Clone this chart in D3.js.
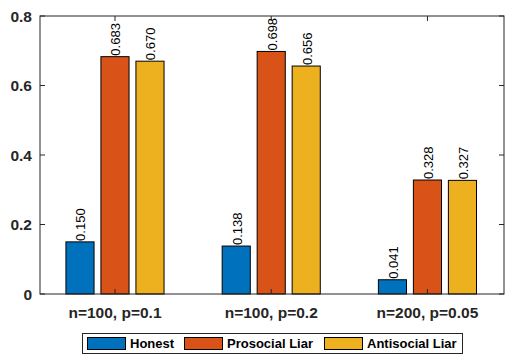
<!DOCTYPE html>
<html>
<head>
<meta charset="utf-8">
<script src="https://cdn.jsdelivr.net/npm/d3@7"></script>
<style>
body { margin: 0; background: #fff; }
svg text { font-family: "Liberation Sans", Arial, Helvetica, sans-serif; }
</style>
</head>
<body>
<div id="chart"></div>
<script>
var W = 515, H = 364;

var groups = ["n=100, p=0.1", "n=100, p=0.2", "n=200, p=0.05"];
var series = ["Honest", "Prosocial Liar", "Antisocial Liar"];
var honest = [0.150, 0.138, 0.041];
var prosocial = [0.683, 0.698, 0.328];
var antisocial = [0.670, 0.656, 0.327];
var yTicks = [0, 0.2, 0.4, 0.6, 0.8];

var colors = ["#0072bd", "#d95319", "#edb120"];
var values = [honest, prosocial, antisocial];

// plot box (window.top is taken, so no "top" here)
var pL = 40, pR = 504, pT = 16, pB = 294;

var x = d3.scaleLinear().domain([0.52, 3.49]).range([pL, pR]);
var y = d3.scaleLinear().domain([0, 0.8]).range([pB, pT]);
var off = 0.224, bw = 0.18;

var svg = d3.select("#chart").append("svg")
	.attr("width", W)
	.attr("height", H);

var bars = [];
for(let s = 0; s < series.length; s++) {
	for(let g = 0; g < groups.length; g++) {
		bars.push({s: s, g: g, v: values[s][g]});
	}
}

var bx = d => x(d.g + 1 + (d.s - 1) * off);
var barW = x(bw) - x(0);

svg.selectAll("rect.bar")
	.data(bars)
	.enter()
	.append("rect")
	.attr("class", "bar")
	.attr("x", d => bx(d) - barW / 2)
	.attr("width", barW)
	.attr("y", d => y(d.v))
	.attr("height", d => y(0) - y(d.v))
	.attr("fill", d => colors[d.s])
	.attr("stroke", "#000")
	.attr("stroke-width", 1);

svg.selectAll("text.val")
	.data(bars)
	.enter()
	.append("text")
	.attr("class", "val")
	.attr("transform", d => "translate(" + (bx(d) + 2) + "," + (y(d.v) - 1) + ") rotate(-90)")
	.attr("dominant-baseline", "middle")
	.style("font-size", "13px")
	.attr("fill", "#000")
	.text(d => d.v.toFixed(3));

// box
svg.append("rect")
	.attr("x", pL)
	.attr("y", pT)
	.attr("width", pR - pL)
	.attr("height", pB - pT)
	.attr("fill", "none")
	.attr("stroke", "#262626")
	.attr("stroke-width", 1);

// y ticks, both sides, inward
svg.selectAll("line.yl")
	.data(yTicks)
	.enter()
	.append("line")
	.attr("x1", pL).attr("x2", pL + 5)
	.attr("y1", d => y(d)).attr("y2", d => y(d))
	.attr("stroke", "#262626");
svg.selectAll("line.yr")
	.data(yTicks)
	.enter()
	.append("line")
	.attr("x1", pR).attr("x2", pR - 5)
	.attr("y1", d => y(d)).attr("y2", d => y(d))
	.attr("stroke", "#262626");
svg.selectAll("text.yt")
	.data(yTicks)
	.enter()
	.append("text")
	.attr("x", pL - 8)
	.attr("y", d => y(d))
	.attr("dy", "0.36em")
	.attr("text-anchor", "end")
	.style("font-size", "15.5px")
	.style("font-weight", "bold")
	.attr("fill", "#262626")
	.text(d => d === 0 ? "0" : d.toFixed(1));

// x ticks top and bottom
svg.selectAll("line.xb")
	.data(groups)
	.enter()
	.append("line")
	.attr("x1", (d, i) => x(i + 1)).attr("x2", (d, i) => x(i + 1))
	.attr("y1", pB).attr("y2", pB - 5)
	.attr("stroke", "#262626");
svg.selectAll("line.xt")
	.data(groups)
	.enter()
	.append("line")
	.attr("x1", (d, i) => x(i + 1)).attr("x2", (d, i) => x(i + 1))
	.attr("y1", pT).attr("y2", pT + 5)
	.attr("stroke", "#262626");
svg.selectAll("text.xt")
	.data(groups)
	.enter()
	.append("text")
	.attr("x", (d, i) => x(i + 1))
	.attr("y", 318)
	.attr("text-anchor", "middle")
	.style("font-size", "15.5px")
	.style("font-weight", "bold")
	.attr("fill", "#262626")
	.text(d => d);

// legend
var lg = svg.append("g");
lg.append("rect")
	.attr("x", 82.5).attr("y", 333.5)
	.attr("width", 380).attr("height", 20)
	.attr("fill", "#fff")
	.attr("stroke", "#262626")
	.attr("stroke-width", 1);
var legX = [87, 184, 324];
series.forEach((name, i) => {
	lg.append("rect")
		.attr("x", legX[i] + 0.5).attr("y", 337.5)
		.attr("width", 38).attr("height", 12)
		.attr("fill", colors[i])
		.attr("stroke", "#000");
	lg.append("text")
		.attr("x", legX[i] + 43)
		.attr("y", 348)
		.style("font-size", "13px")
		.style("font-weight", "bold")
		.attr("fill", "#000")
		.text(name);
});
</script>
</body>
</html>
